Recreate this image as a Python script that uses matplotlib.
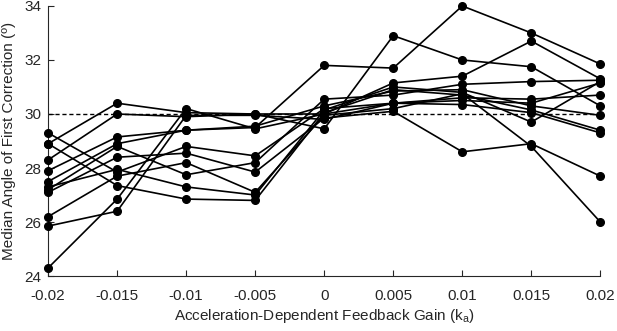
import matplotlib
matplotlib.use("Agg")
import matplotlib.pyplot as plt

gains = [-0.02, -0.015, -0.01, -0.005, 0, 0.005, 0.01, 0.015, 0.02]
xtick_labels = ["-0.02", "-0.015", "-0.01", "-0.005", "0", "0.005", "0.01", "0.015", "0.02"]
yticks = [24, 26, 28, 30, 32, 34]

s1 = [29.3, 27.85, 28.8, 28.45, 30.2, 30.4, 30.35, 30.05, 29.3]
s2 = [27.3, 27.95, 27.3, 27.0, 30.15, 31.0, 30.8, 29.7, 31.2]
s3 = [28.9, 27.35, 26.85, 26.8, 30.05, 30.9, 30.7, 30.15, 29.4]
s4 = [28.3, 30.0, 29.9, 30.0, 30.0, 30.4, 30.6, 30.55, 30.7]
s5 = [27.9, 29.15, 29.4, 29.5, 31.8, 31.7, 34.0, 33.0, 31.85]
s6 = [27.5, 28.9, 29.4, 29.55, 30.3, 30.85, 30.9, 30.3, 29.95]
s7 = [28.9, 30.4, 30.05, 30.0, 29.45, 32.9, 32.0, 31.75, 30.3]
s8 = [27.2, 28.8, 27.75, 28.2, 30.55, 30.7, 31.1, 31.2, 31.25]
s9 = [27.1, 28.4, 28.55, 27.85, 29.85, 30.1, 28.6, 28.9, 27.7]
s10 = [26.2, 27.7, 28.2, 27.1, 29.95, 30.2, 30.75, 28.8, 26.0]
s11 = [25.85, 26.4, 29.95, 29.95, 29.8, 30.4, 30.5, 30.4, 31.15]
s12 = [24.3, 26.85, 30.2, 29.45, 30.0, 31.15, 31.4, 32.7, 31.3]
subjects = [s1, s2, s3, s4, s5, s6, s7, s8, s9, s10, s11, s12]
reference_angle = 30

plt.rcParams['font.family'] = ['Liberation Sans', 'DejaVu Sans']
tc = '#262626'

fig = plt.figure(figsize=(6.17, 3.31), dpi=100)
ax = fig.add_axes([0.078, 0.166, 0.895, 0.816])

for s in subjects:
    ax.plot(gains, s, '-', color='black', lw=1.2, marker='o', ms=5.5,
            mfc='black', mec='black', clip_on=False, zorder=3)

ax.axhline(reference_angle, color='black', ls='--', lw=1.0, dashes=(3, 2), zorder=2)

ax.set_xlim(-0.02, 0.02)
ax.set_ylim(24, 34)
ax.set_xticks(gains)
ax.set_xticklabels(xtick_labels)
ax.set_yticks(yticks)
ax.tick_params(direction='in', length=4, width=0.8, labelsize=11, colors=tc)
ax.tick_params(axis='x', pad=9)
ax.tick_params(axis='y', pad=5)
for sp in ['top', 'right']:
    ax.spines[sp].set_visible(False)
for sp in ['left', 'bottom']:
    ax.spines[sp].set_color(tc)
    ax.spines[sp].set_linewidth(0.8)

ax.set_xlabel('Acceleration-Dependent Feedback Gain (k$_{\\mathregular{a}}$)', fontsize=11, color=tc, labelpad=3)
ax.set_ylabel('Median Angle of First Correction (º)', fontsize=11, color=tc, labelpad=6)

fig.savefig('out.png', dpi=100)
